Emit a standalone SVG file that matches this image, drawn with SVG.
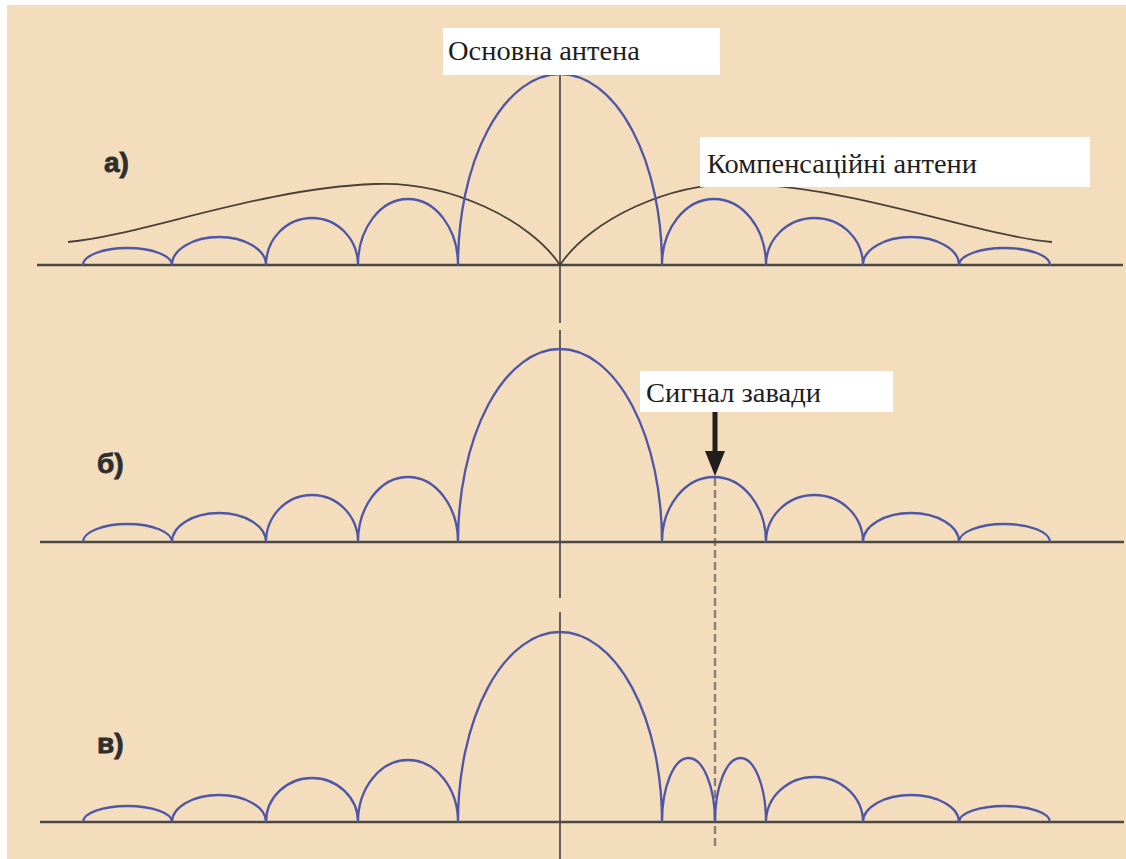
<svg xmlns="http://www.w3.org/2000/svg" width="1126" height="859" viewBox="0 0 1126 859">
<style>
.bg{fill:#F4DDBD}
.lobe{fill:none;stroke:#4E56A6;stroke-width:2.3}
.base{stroke:#4A4844;stroke-width:2.6}
.axis{stroke:#55524E;stroke-width:1.8}
.env{fill:none;stroke:#4A4038;stroke-width:1.8}
.box{fill:#FFFFFF}
.lbl{font-family:"Liberation Serif","Times New Roman",serif;font-size:27px;fill:#1E1E1E}
.pl{font-family:"Liberation Sans",Arial,sans-serif;font-size:28px;font-weight:bold;fill:#2E2E2E;stroke:#2E2E2E;stroke-width:0.8}
.dash{stroke:#8C7E74;stroke-width:2.4;stroke-dasharray:8 4}
</style>
<rect width="1126" height="859" fill="#FFFFFF"/>
<rect class="bg" x="7" y="5" width="1119" height="854"/>

<g id="connectors">
  <line class="axis" x1="560" y1="74" x2="560" y2="323"/>
  <line class="axis" x1="560" y1="330" x2="560" y2="598"/>
  <line class="axis" x1="560" y1="612" x2="560" y2="859"/>
  <line class="dash" x1="715" y1="478" x2="715" y2="846"/>
  <line x1="715" y1="411" x2="715" y2="453" stroke="#221E1B" stroke-width="5"/>
  <polygon points="705,451 725,451 715,476" fill="#221E1B"/>
</g>

<g id="panel-a">
  <line class="base" x1="37" y1="265" x2="1123" y2="265"/>
  <path class="env" d="M 68 242 C 140 236, 260 188, 375 184 C 450 181, 530 220, 560 265 C 590 220, 670 181, 745 184 C 860 188, 980 236, 1052 242"/>
  <path class="lobe" d="M 83 265 A 44.5 17 0 0 1 172 265 A 47 28 0 0 1 266 265 A 46 47 0 0 1 358 265 A 50 66 0 0 1 458 265 A 102 191 0 0 1 662 265 A 52 66 0 0 1 766 265 A 48.5 47 0 0 1 863 265 A 48 28 0 0 1 959 265 A 45.5 17 0 0 1 1050 265"/>
  <text class="pl" x="104" y="172">а)</text>
</g>

<g id="panel-b">
  <line class="base" x1="40" y1="542" x2="1124" y2="542"/>
  <path class="lobe" d="M 83 542 A 44.5 18 0 0 1 172 542 A 47 29 0 0 1 266 542 A 46 47 0 0 1 358 542 A 50 65 0 0 1 458 542 A 102 193 0 0 1 662 542 A 52 65 0 0 1 766 542 A 48.5 47 0 0 1 863 542 A 48 29 0 0 1 959 542 A 45.5 18 0 0 1 1050 542"/>
  <text class="pl" x="97" y="473">б)</text>
</g>

<g id="panel-c">
  <line class="base" x1="40" y1="822" x2="1124" y2="822"/>
  <path class="lobe" d="M 83 822 A 44.5 16 0 0 1 172 822 A 47 27 0 0 1 266 822 A 46 44 0 0 1 358 822 A 50 62 0 0 1 458 822 A 102 190 0 0 1 662 822 A 26.5 64 0 0 1 715 822 A 25.5 64 0 0 1 766 822 A 48.5 45 0 0 1 863 822 A 48 27 0 0 1 959 822 A 45.5 16 0 0 1 1050 822"/>
  <text class="pl" x="97" y="753">в)</text>
</g>

<g id="label-main">
  <rect class="box" x="443" y="28" width="277" height="47"/>
  <text class="lbl" x="448" y="60" textLength="192" lengthAdjust="spacingAndGlyphs">Основна антена</text>
</g>
<g id="label-comp">
  <rect class="box" x="700" y="137" width="390" height="50"/>
  <text class="lbl" x="707" y="173" textLength="270" lengthAdjust="spacingAndGlyphs">Компенсаційні антени</text>
</g>
<g id="label-signal">
  <rect class="box" x="640" y="371" width="253" height="41"/>
  <text class="lbl" x="646" y="402" textLength="175" lengthAdjust="spacingAndGlyphs">Сигнал завади</text>
</g>
</svg>
